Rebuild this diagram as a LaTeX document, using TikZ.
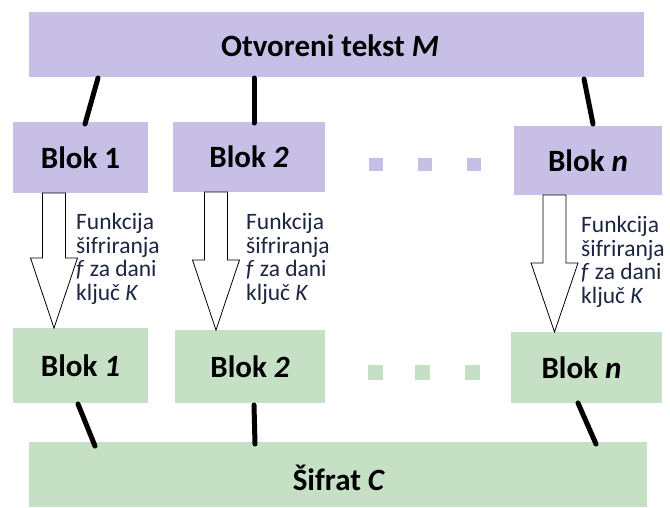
\documentclass[tikz,border=0pt]{standalone}
\usepackage{fontspec}
\setmainfont{Carlito}
\usetikzlibrary{calc}
\definecolor{lav}{RGB}{200,191,230}
\definecolor{mint}{RGB}{198,224,197}
\definecolor{txt}{RGB}{28,37,65}
\newcommand\fatarrow[4]{%
  \draw[fat] let \p1=(#1.south), \p2=(#2.north) in
    ({#3pt-11.5pt},\y1) -- ({#3pt-11.5pt},{\y2+#4pt}) -- ({#3pt-23.5pt},{\y2+#4pt})
    -- (#3pt,\y2) -- ({#3pt+23.5pt},{\y2+#4pt}) -- ({#3pt+11.5pt},{\y2+#4pt})
    -- ({#3pt+11.5pt},\y1) -- cycle;}
\begin{document}
\begin{tikzpicture}[x=1pt,y=-1pt,
  pbox/.style={fill=lav, draw=none, inner sep=0, outer sep=0},
  gbox/.style={fill=mint, draw=none, inner sep=0, outer sep=0},
  lbl/.style={font=\fontsize{31}{31}\selectfont\bfseries, text=black, inner sep=0},
  link/.style={line width=5pt, line cap=round, draw=black},
  fat/.style={draw=black, line width=0.8pt, fill=white, line join=miter},
  note/.style={font=\fontsize{23.5}{23.4}\selectfont, text=txt, align=left, anchor=base west, inner sep=0},
  pdot/.style={fill=lav, inner sep=0, minimum width=14pt, minimum height=13pt},
  gdot/.style={fill=mint, inner sep=0, minimum width=15pt, minimum height=15pt}]
\useasboundingbox (0,0) rectangle (670,507);
% boxes
\node[pbox, minimum width=615pt, minimum height=65pt] (M) at (336.5,44.5) {};
\node[lbl] (Mt) at (330,46) {Otvoreni tekst \textit{M}};
\node[pbox, minimum width=135pt, minimum height=71pt] (p1) at (80.5,157.5) {};
\node[lbl] at (p1) {Blok 1};
\node[pbox, minimum width=152pt, minimum height=70pt] (p2) at (249,157) {};
\node[lbl] at (p2) {Blok \textit{2}};
\node[pbox, minimum width=148pt, minimum height=69pt] (pn) at (588,160.5) {};
\node[lbl] at (pn) {Blok \textit{n}};
\node[gbox, minimum width=135pt, minimum height=75pt] (g1) at (80.5,365.5) {};
\node[lbl] at (g1) {Blok \textit{1}};
\node[gbox, minimum width=150pt, minimum height=73pt] (g2) at (250,366.5) {};
\node[lbl] at (g2) {Blok \textit{2}};
\node[gbox, minimum width=151pt, minimum height=71pt] (gn) at (586.5,367.5) {};
\node[lbl] at ($(gn)+(-5,0)$) {Blok \textit{n}};
\node[gbox, minimum width=618pt, minimum height=65pt] (C) at (338,474.5) {};
\node[lbl] (Ct) at (339,478) {Šifrat \textit{C}};
% dots
\node[pdot] (pd1) at (376,164.5) {};
\node[pdot] (pd2) at (425,164.5) {};
\node[pdot] (pd3) at (474,164.5) {};
\node[gdot] (gd1) at (375.5,372.5) {};
\node[gdot] (gd2) at (422.5,372.5) {};
\node[gdot] (gd3) at (472.5,372.5) {};
% links
\draw[link] ($(M.south west)+(69,1)$) -- ($(p1.north west)+(72,2)$);
\draw[link] ($(M.south west)+(225,1)$) -- ($(p2.north west)+(81,1)$);
\draw[link] ($(M.south west)+(555,2)$) -- ($(pn.north west)+(79,-2)$);
\draw[link] ($(g1.south west)+(65,1)$) -- ($(C.north west)+(66,4)$);
\draw[link] ($(g2.south west)+(79,2)$) -- ($(C.north west)+(226,2)$);
\draw[link] ($(gn.south west)+(67,0)$) -- ($(C.north west)+(567,2)$);
% fat arrows
\fatarrow{p1}{g1}{54}{70}
\fatarrow{p2}{g2}{216}{70}
\fatarrow{pn}{gn}{554.5}{69}
% notes (anchored at the baseline of the last line)
\node[note] (n1) at (76,300) {Funkcija\\šifriranja\\\textit{f} za dani\\ključ \textit{K}};
\node[note] (n2) at (246,300) {Funkcija\\šifriranja\\\textit{f} za dani\\ključ \textit{K}};
\node[note] (n3) at (581,303) {Funkcija\\šifriranja\\\textit{f} za dani\\ključ \textit{K}};
\end{tikzpicture}
\end{document}
